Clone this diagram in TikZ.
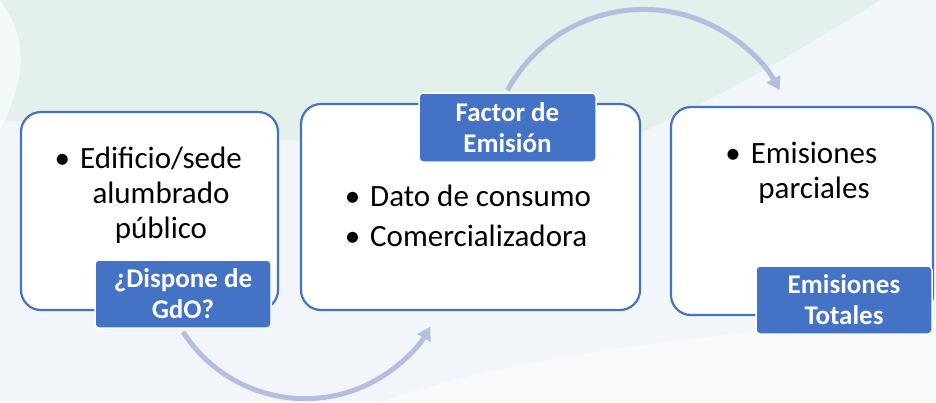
\documentclass[tikz,border=0pt]{standalone}
\usepackage{fontspec}
\setmainfont{Carlito}
\usetikzlibrary{arrows.meta, positioning, calc}

\definecolor{ofblue}{HTML}{4472C4}
\definecolor{arcblue}{HTML}{B4BEDE}
\definecolor{bgblue}{HTML}{F2F5FA}
\definecolor{bggreen}{HTML}{E3F0EC}

\tikzset{
  panel/.style={draw=ofblue, line width=2.2pt, fill=white, rounded corners=20pt},
  tag/.style={draw=white, line width=1.5pt, fill=ofblue, rounded corners=4pt,
    text=white, font=\bfseries\fontsize{27}{31}\selectfont, align=center, inner sep=0pt},
  body/.style={font=\fontsize{31}{35}\selectfont, inner sep=0pt, text=black},
  flow/.style={arcblue, line width=5pt, -{Triangle[length=13pt,width=15pt]}}
}
\newcommand{\bul}{\llap{\textbullet\hspace{10pt}}}

\begin{document}
\begin{tikzpicture}[x=1pt, y=-1pt]
      % Background
      \useasboundingbox (0,0) rectangle (936,402);
      \fill[bgblue] (0,0) rectangle (936,402);
      \fill[bggreen] (0,0) -- (880,0) .. controls (800,50) and (700,110) .. (600,150)
          .. controls (400,150) and (200,135) .. (0,120) -- cycle;
      \fill[white, opacity=0.6] (0,0) .. controls (30,40) and (25,80) .. (0,130) -- cycle;
      \fill[white, opacity=0.5] (936,320) .. controls (700,330) and (500,360) .. (380,402)
          -- (936,402) -- cycle;

      % Panels
      \node[panel, minimum width=257, minimum height=198] (box1) at (149.5,211) {};
      \node[panel, minimum width=339, minimum height=206] (box2) at (470.5,207) {};
      \node[panel, minimum width=262, minimum height=208] (box3) at (802,211) {};

      % Panel texts (base = last line)
      \node[body, align=center, anchor=base] (txt1) at (161,238)
          {\bul Edificio/sede\\alumbrado\\público};
      \node[body, align=left, anchor=base west] (txt2) at (370,246)
          {\bul Dato de consumo\\[5pt]\bul Comercializadora};
      \node[body, align=center, anchor=base] (txt3) at (814,198)
          {\bul Emisiones\\parciales};

      % Tags
      \node[tag, minimum width=176, minimum height=68] (lab1) at (183,294) {¿Dispone de\\GdO?};
      \node[tag, minimum width=177, minimum height=69] (lab2) at (507.5,127.5) {Factor de\\Emisión};
      \node[tag, minimum width=176, minimum height=68] (lab3) at (844,300) {Emisiones\\Totales};

      % Curved arrows
      \draw[flow] ($(lab1.south)+(0,3)$) arc[start angle=212.6, end angle=329.7, radius=145pt];
      \draw[flow] ($(lab2.north)+(0,-2)$) arc[start angle=151.4, end angle=28.6, radius=155pt];
\end{tikzpicture}
\end{document}
